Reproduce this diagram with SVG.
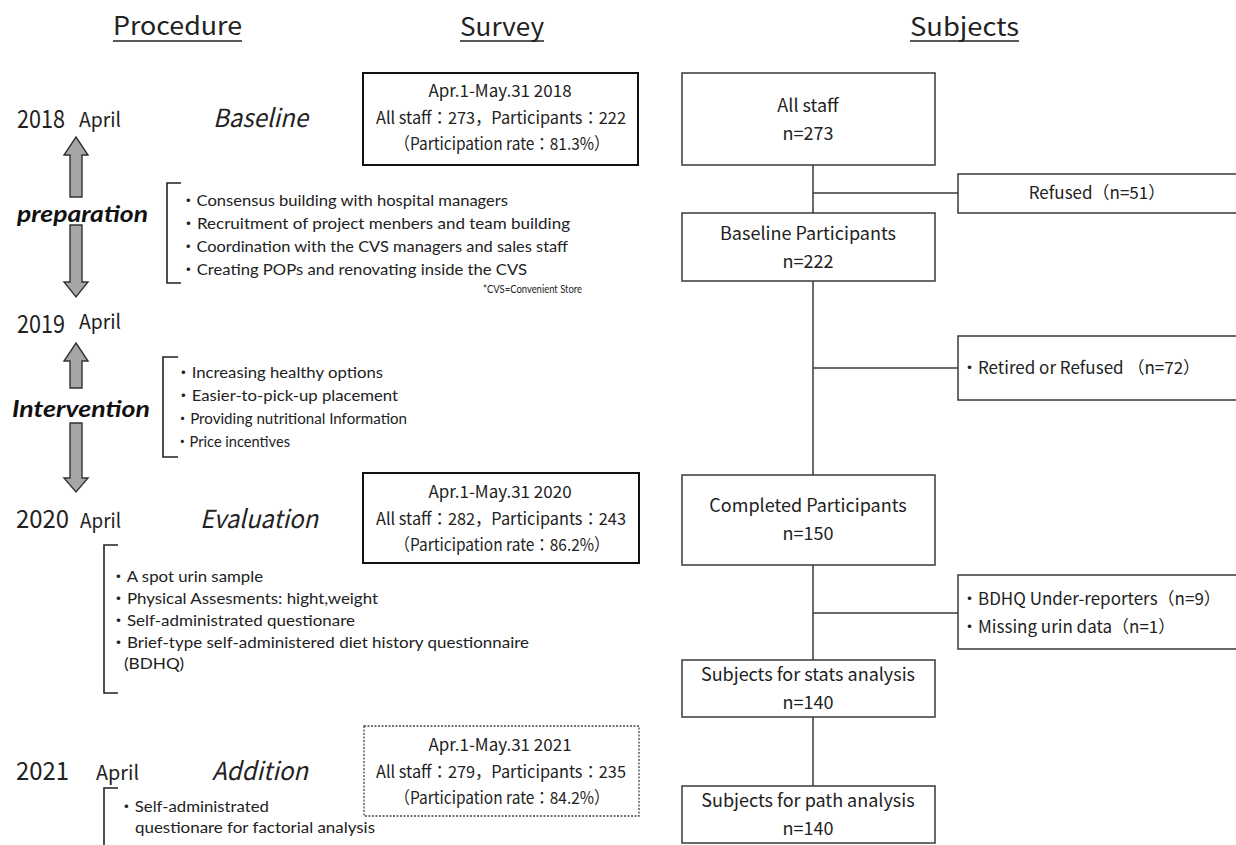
<svg xmlns="http://www.w3.org/2000/svg" width="1236" height="845" viewBox="0 0 1236 845">
<style>
  .jp { font-family: "Noto Sans CJK JP", "Liberation Sans", sans-serif; fill: #222; }
  .hd { font-size: 25px; }
  .yr { font-size: 25px; }
  .mo { font-size: 20px; }
  .ph { font-size: 25px; font-style: italic; }
  .bx { font-size: 17px; }
  .nb { font-size: 18px; }
  .cb { font-family: "Lato", "Noto Sans CJK JP", sans-serif; fill: #222; font-size: 16px; }
  .bi { font-family: "Lato", "Liberation Sans", sans-serif; fill: #111; font-size: 23px; font-weight: bold; font-style: italic; }
  .mid { text-anchor: middle; }
  .sbox { fill: #fff; stroke: #111; stroke-width: 2; }
  .dbox { fill: #fff; stroke: #444; stroke-width: 1.3; stroke-dasharray: 2 1.5; }
  .nbox { fill: #fff; stroke: #3a3a3a; stroke-width: 1.5; }
  .conn { stroke: #3a3a3a; stroke-width: 1.5; fill: none; }
  .brk { stroke: #222; stroke-width: 1.6; fill: none; }
  .arr { fill: #a6a6a6; stroke: #333; stroke-width: 1.4; stroke-linejoin: miter; }
  .ul { stroke: #222; stroke-width: 1.6; }
</style>
<rect width="1236" height="845" fill="#fff"/>

<!-- Headers -->
<g id="headers">
  <text class="jp hd" x="113" y="35" textLength="129" lengthAdjust="spacingAndGlyphs">Procedure</text>
  <line class="ul" x1="113" y1="41" x2="242" y2="41"/>
  <text class="jp hd" x="460" y="36" textLength="84" lengthAdjust="spacingAndGlyphs">Survey</text>
  <line class="ul" x1="460" y1="41" x2="544" y2="41"/>
  <text class="jp hd" x="910" y="36" textLength="109" lengthAdjust="spacingAndGlyphs">Subjects</text>
  <line class="ul" x1="910" y1="41" x2="1019" y2="41"/>
</g>

<!-- Procedure column -->
<g id="year-2018">
  <text class="jp yr" x="17" y="128" textLength="48" lengthAdjust="spacingAndGlyphs">2018</text>
  <text class="jp mo" x="79" y="127" textLength="42" lengthAdjust="spacingAndGlyphs">April</text>
  <text class="jp ph" x="213" y="127" textLength="95" lengthAdjust="spacingAndGlyphs">Baseline</text>
</g>

<g id="arrow-preparation">
  <polygon class="arr" points="76,137 88,155 82,155 82,197 70,197 70,155 64,155"/>
  <polygon class="arr" points="70,225 82,225 82,282 88,282 76,297 64,282 70,282"/>
  <text class="bi" x="17" y="222" textLength="131" lengthAdjust="spacingAndGlyphs">preparation</text>
</g>

<g id="preparation-list">
  <path class="brk" d="M181,183 H167 V283 H181"/>
  <text class="cb" x="180" y="206" textLength="328" lengthAdjust="spacingAndGlyphs">・Consensus building with hospital managers</text>
  <text class="cb" x="180" y="229" textLength="390" lengthAdjust="spacingAndGlyphs">・Recruitment of project menbers and  team building</text>
  <text class="cb" x="180" y="252" textLength="388" lengthAdjust="spacingAndGlyphs">・Coordination with the CVS managers and sales staff</text>
  <text class="cb" x="180" y="275" textLength="347" lengthAdjust="spacingAndGlyphs">・Creating POPs and renovating inside the CVS</text>
  <text class="cb" x="483" y="293" style="font-size:12px" textLength="99" lengthAdjust="spacingAndGlyphs">*CVS=Convenient Store</text>
</g>

<g id="year-2019">
  <text class="jp yr" x="17" y="333" textLength="48" lengthAdjust="spacingAndGlyphs">2019</text>
  <text class="jp mo" x="79" y="329" textLength="42" lengthAdjust="spacingAndGlyphs">April</text>
</g>

<g id="arrow-intervention">
  <polygon class="arr" points="76,343 88,361 82,361 82,388 70,388 70,361 64,361"/>
  <polygon class="arr" points="70,423 82,423 82,478 88,478 76,492 64,478 70,478"/>
  <text class="bi" x="12" y="417" textLength="138" lengthAdjust="spacingAndGlyphs">Intervention</text>
</g>

<g id="intervention-list">
  <path class="brk" d="M178,357 H163 V457 H178"/>
  <text class="cb" x="175" y="378" textLength="208" lengthAdjust="spacingAndGlyphs">・Increasing healthy options</text>
  <text class="cb" x="175" y="401" textLength="223" lengthAdjust="spacingAndGlyphs">・Easier-to-pick-up placement</text>
  <text class="cb" x="175" y="424" style="font-size:15px" textLength="232" lengthAdjust="spacingAndGlyphs">・Providing nutritional Information</text>
  <text class="cb" x="175" y="447" style="font-size:15px" textLength="115" lengthAdjust="spacingAndGlyphs">・Price incentives</text>
</g>

<g id="year-2020">
  <text class="jp yr" x="16" y="528" textLength="53" lengthAdjust="spacingAndGlyphs">2020</text>
  <text class="jp mo" x="80" y="528" textLength="41" lengthAdjust="spacingAndGlyphs">April</text>
  <text class="jp ph" x="200" y="528" textLength="118" lengthAdjust="spacingAndGlyphs">Evaluation</text>
</g>

<g id="evaluation-list">
  <path class="brk" d="M118,545 H104 V693 H118"/>
  <text class="cb" x="110" y="582" textLength="153" lengthAdjust="spacingAndGlyphs">・A spot urin sample</text>
  <text class="cb" x="110" y="604" textLength="268" lengthAdjust="spacingAndGlyphs">・Physical Assesments: hight,weight</text>
  <text class="cb" x="110" y="626" textLength="245" lengthAdjust="spacingAndGlyphs">・Self-administrated questionare</text>
  <text class="cb" x="110" y="648" textLength="419" lengthAdjust="spacingAndGlyphs">・Brief-type self-administered diet history questionnaire</text>
  <text class="cb" x="124" y="669" textLength="60" lengthAdjust="spacingAndGlyphs">(BDHQ)</text>
</g>

<g id="year-2021">
  <text class="jp yr" x="16" y="780" textLength="53" lengthAdjust="spacingAndGlyphs">2021</text>
  <text class="jp mo" x="96" y="780" textLength="43" lengthAdjust="spacingAndGlyphs">April</text>
  <text class="jp ph" x="212" y="780" textLength="96" lengthAdjust="spacingAndGlyphs">Addition</text>
</g>

<g id="addition-list">
  <path class="brk" d="M118,788 H104 V845"/>
  <text class="cb" x="118" y="812" textLength="151" lengthAdjust="spacingAndGlyphs">・Self-administrated</text>
  <text class="cb" x="135" y="833" textLength="240" lengthAdjust="spacingAndGlyphs">questionare for factorial analysis</text>
</g>

<!-- Survey column -->
<g id="survey-2018">
  <rect class="sbox" x="363" y="73" width="275" height="92"/>
  <text class="jp bx mid" x="500" y="97">Apr.1-May.31 2018</text>
  <text class="jp bx mid" x="501" y="124" textLength="250" lengthAdjust="spacingAndGlyphs">All staff：273，Participants：222</text>
  <text class="jp bx mid" x="502" y="150" textLength="215" lengthAdjust="spacingAndGlyphs">（Participation rate：81.3%）</text>
</g>

<g id="survey-2020">
  <rect class="sbox" x="363" y="473" width="276" height="90"/>
  <text class="jp bx mid" x="500" y="498">Apr.1-May.31 2020</text>
  <text class="jp bx mid" x="501" y="525" textLength="250" lengthAdjust="spacingAndGlyphs">All staff：282，Participants：243</text>
  <text class="jp bx mid" x="502" y="551" textLength="215" lengthAdjust="spacingAndGlyphs">（Participation rate：86.2%）</text>
</g>

<g id="survey-2021">
  <rect class="dbox" x="364" y="726" width="275" height="90"/>
  <text class="jp bx mid" x="500" y="751">Apr.1-May.31 2021</text>
  <text class="jp bx mid" x="501" y="778" textLength="250" lengthAdjust="spacingAndGlyphs">All staff：279，Participants：235</text>
  <text class="jp bx mid" x="502" y="804" textLength="215" lengthAdjust="spacingAndGlyphs">（Participation rate：84.2%）</text>
</g>

<!-- Connectors -->
<g id="connectors">
  <line class="conn" x1="813" y1="165" x2="813" y2="213"/>
  <line class="conn" x1="813" y1="193" x2="958" y2="193"/>
  <line class="conn" x1="813" y1="281" x2="813" y2="475"/>
  <line class="conn" x1="813" y1="368" x2="958" y2="368"/>
  <line class="conn" x1="813" y1="565" x2="813" y2="660"/>
  <line class="conn" x1="813" y1="613" x2="958" y2="613"/>
  <line class="conn" x1="813" y1="717" x2="813" y2="786"/>
</g>

<!-- Subjects column -->
<g id="all-staff">
  <rect class="nbox" x="682" y="73" width="253" height="92"/>
  <text class="jp nb mid" x="808" y="112">All staff</text>
  <text class="jp nb mid" x="808" y="140">n=273</text>
</g>

<g id="refused">
  <rect class="nbox" x="958" y="174" width="290" height="39"/>
  <text class="jp bx mid" x="1097" y="199">Refused（n=51）</text>
</g>

<g id="baseline-participants">
  <rect class="nbox" x="682" y="213" width="253" height="68"/>
  <text class="jp nb mid" x="808" y="240">Baseline Participants</text>
  <text class="jp nb mid" x="808" y="268">n=222</text>
</g>

<g id="retired">
  <rect class="nbox" x="958" y="336" width="290" height="64"/>
  <text class="jp bx" x="961" y="374">・Retired or Refused （n=72）</text>
</g>

<g id="completed-participants">
  <rect class="nbox" x="682" y="475" width="253" height="90"/>
  <text class="jp nb mid" x="808" y="512">Completed Participants</text>
  <text class="jp nb mid" x="808" y="540">n=150</text>
</g>

<g id="excluded">
  <rect class="nbox" x="958" y="575" width="290" height="74"/>
  <text class="jp bx" x="961" y="605">・BDHQ Under-reporters（n=9）</text>
  <text class="jp bx" x="961" y="633">・Missing urin data（n=1）</text>
</g>

<g id="stats-subjects">
  <rect class="nbox" x="682" y="660" width="253" height="57"/>
  <text class="jp nb mid" x="808" y="681">Subjects for stats analysis</text>
  <text class="jp nb mid" x="808" y="709">n=140</text>
</g>

<g id="path-subjects">
  <rect class="nbox" x="682" y="786" width="253" height="57"/>
  <text class="jp nb mid" x="808" y="807">Subjects for path analysis</text>
  <text class="jp nb mid" x="808" y="835">n=140</text>
</g>
</svg>
